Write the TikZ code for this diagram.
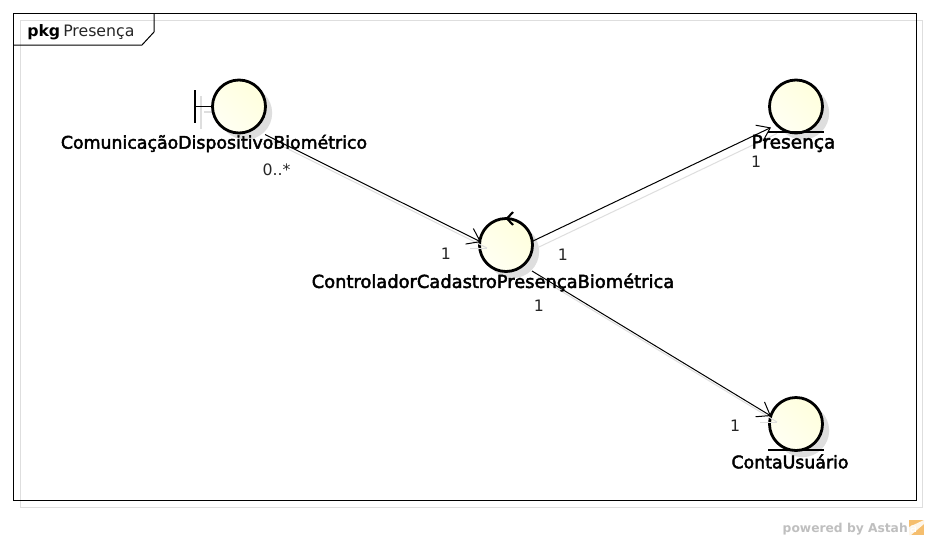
\documentclass[tikz,border=0pt]{standalone}
\usepackage{fontspec}
\setmainfont{DejaVu Sans}
\newfontfamily\labelfont[FakeBold=2.5]{DejaVu Sans}
\usetikzlibrary{arrows.meta}
\definecolor{shadowgray}{RGB}{222,222,222}
\definecolor{softyellow}{RGB}{255,255,221}
\definecolor{logoorange}{RGB}{245,190,110}
\tikzset{
  x=0.75pt,y=-0.75pt,
  robust/.style={circle,draw=black,line width=2.1pt,minimum size=39.75pt,inner sep=0pt,
    top color=softyellow!35!white,bottom color=softyellow,shading angle=135},
  robustshadow/.style={circle,fill=shadowgray,minimum size=40pt,inner sep=0pt},
  glyph/.style={line width=2.1pt,black},
  glyphshadow/.style={line width=1.2pt,shadowgray},
  conn/.style={line width=0.75pt,black,-{Straight Barb[length=9pt,width=13pt,line width=0.75pt]}},
  connshadow/.style={line width=0.75pt,shadowgray},
  classname/.style={font=\labelfont\fontsize{13}{15}\selectfont,text=black,inner sep=0pt},
  mult/.style={font=\fontsize{11.8}{14}\selectfont,text=black!85,inner sep=0pt},
}
\begin{document}
\begin{tikzpicture}
\useasboundingbox (0,0) rectangle (929,540);
\fill[white] (0,0) rectangle (929,540);
% frame
\draw[shadowgray,line width=0.75pt] (20.5,20.5) rectangle (922.5,507.5);
\node[draw=black,line width=0.75pt,minimum width=677.25pt,minimum height=365.25pt,inner sep=0pt,outer sep=0pt,anchor=north west] (frame) at (13.5,13.5) {};
\draw[black,line width=0.75pt] (13.5,45) -- (142,45) -- (154,32) -- (154,13.5);
\node[anchor=base west,inner sep=0pt,font=\fontsize{11.8}{14}\selectfont\bfseries] (pkg) at (27,36) {pkg};
\node[anchor=base west,inner sep=0pt,font=\fontsize{11.8}{14}\selectfont,text=black!85] (pkgname) at (63,36) {Presença};
% shadows of the icons
\node[robustshadow] (bs) at (245.5,113) {};
\node[robustshadow] (cs) at (512.5,251.5) {};
\node[robustshadow] (es) at (802.5,113) {};
\node[robustshadow] (us) at (802.5,430.5) {};
\draw[glyphshadow] (201,96) -- (201,129);
\draw[glyphshadow] (204,112) -- (218,112);
% icons
\node[robust] (boundary) at (239,106.5) {};
\node[robust] (control) at (506,245) {};
\node[robust] (presenca) at (796,106.5) {};
\node[robust] (conta) at (796,424) {};
% connector shadows
\draw[connshadow] ([shift={(32,34)}]boundary.center) -- ([shift={(-19,3)}]control.center);
\draw[connshadow] ([shift={(-36,3)}]control.center) -- ([shift={(-19,3)}]control.center);
\draw[connshadow] ([shift={(33,2)}]control.center) -- ([shift={(-19,27)}]presenca.center);
\draw[connshadow] ([shift={(32,32)}]control.center) -- ([shift={(-19,-2)}]conta.center);
\draw[connshadow] ([shift={(-36,-2)}]conta.center) -- ([shift={(-19,-2)}]conta.center);
% stereotypes
\draw[glyph] (195,90) -- (195,123);
\draw[glyph,line width=1.4pt] (195,106.5) -- (boundary.west);
\draw[glyph,line width=1.6pt] (513,212) -- (507,218.5) -- (513,225);
\draw[glyph] (768,132) -- (824,132);
\draw[glyph] (768,450) -- (824,450);
% labels
\node[classname] (lb) at (214,143.5) {ComunicaçãoDispositivoBiométrico};
\node[classname,font=\labelfont\fontsize{13.4}{15}\selectfont] (lc) at (493,282.5) {ControladorCadastroPresençaBiométrica};
\node[classname,font=\labelfont\fontsize{13.9}{15}\selectfont] (lp) at (793.5,143.5) {Presença};
\node[classname] (lu) at (790,461.5) {ContaUsuário};
% connectors
\draw[conn] ([shift={(26,28)}]boundary.center) -- ([shift={(-25,-3)}]control.center);
\draw[conn] ([shift={(27,-4)}]control.center) -- ([shift={(-25,21)}]presenca.center);
\draw[conn] ([shift={(26,26)}]control.center) -- ([shift={(-25,-8)}]conta.center);
% multiplicities
\node[mult] (m1) at (276.5,169.5) {0..*};
\node[mult] (m2) at (446,253.5) {1};
\node[mult] (m3) at (563,254.5) {1};
\node[mult] (m4) at (539,305.5) {1};
\node[mult] (m5) at (756,161.5) {1};
\node[mult] (m6) at (735,425.5) {1};
% footer
\node[anchor=base east,inner sep=0pt,font=\fontsize{9.2}{12}\selectfont\bfseries,text=black!25] (powered) at (908,532) {powered by Astah};
\fill[logoorange] (909,520) rectangle (924,535);
\fill[white!85!logoorange] (909,527) -- (924,520) -- (924,524) -- (911,535) -- (909,535) -- cycle;
\node[inner sep=0pt,font=\fontsize{9}{10}\selectfont,text=white] (logo) at (913.5,529.5) {a};
\end{tikzpicture}
\end{document}
